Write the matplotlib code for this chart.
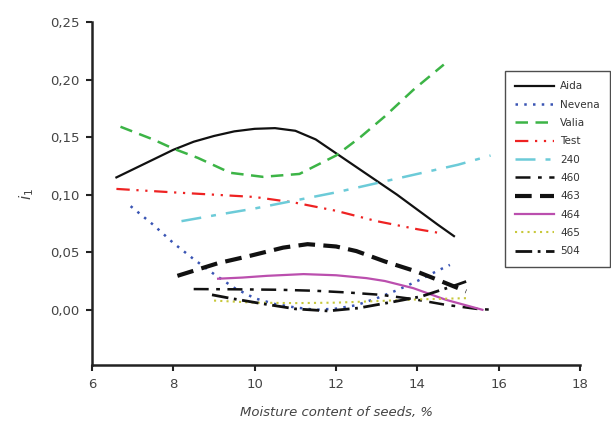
import matplotlib
matplotlib.use("Agg")
import matplotlib.pyplot as plt
from matplotlib.ticker import FixedLocator, FuncFormatter

# ---- data ----
aida_x = [6.6, 7.3, 8.0, 8.5, 9.0, 9.5, 10.0, 10.5, 11.0, 11.5, 12.0, 12.5, 13.0, 13.5, 14.0, 14.5, 14.9]
aida_y = [0.115, 0.127, 0.139, 0.146, 0.151, 0.1550, 0.1572, 0.1578, 0.1555, 0.1480, 0.136, 0.124, 0.112, 0.100, 0.087, 0.074, 0.064]

nevena_x = [6.95, 7.5, 8.0, 8.5, 9.0, 9.5, 10.0, 10.5, 11.0, 11.5, 12.0, 12.5, 13.0, 13.5, 14.0, 14.5, 14.8]
nevena_y = [0.090, 0.074, 0.058, 0.044, 0.031, 0.019, 0.010, 0.005, 0.002, 0.000, 0.001, 0.004, 0.010, 0.017, 0.025, 0.034, 0.039]

valia_x = [6.7, 7.5, 8.0, 8.6, 9.4, 10.2, 11.1, 12.0, 12.6, 13.2, 13.9, 14.65]
valia_y = [0.159, 0.148, 0.140, 0.132, 0.119, 0.1155, 0.118, 0.134, 0.150, 0.168, 0.191, 0.213]

test_x = [6.6, 8.0, 9.0, 10.0, 11.0, 12.0, 13.0, 14.0, 14.5]
test_y = [0.105, 0.102, 0.100, 0.098, 0.093, 0.086, 0.077, 0.070, 0.067]

s240_x = [8.2, 9.0, 10.0, 11.0, 12.0, 13.0, 14.0, 15.0, 15.8]
s240_y = [0.077, 0.082, 0.088, 0.095, 0.102, 0.110, 0.118, 0.126, 0.134]

s460_x = [8.5, 9.5, 10.6, 11.5, 12.3, 13.1, 13.9, 14.7, 15.5, 15.9]
s460_y = [0.018, 0.0178, 0.0174, 0.0165, 0.015, 0.013, 0.0093, 0.0043, 0.0006, 0.0]

s463_x = [8.1, 8.6, 9.1, 9.9, 10.7, 11.3, 12.0, 12.5, 13.2, 14.0, 14.5, 15.2]
s463_y = [0.0295, 0.035, 0.0405, 0.047, 0.054, 0.057, 0.055, 0.051, 0.042, 0.033, 0.026, 0.016]

s464_x = [9.1, 9.7, 10.3, 11.2, 12.0, 12.75, 13.2, 13.9, 14.7, 15.6]
s464_y = [0.027, 0.028, 0.0295, 0.031, 0.030, 0.0275, 0.025, 0.0188, 0.0087, 0.0]

s465_x = [9.0, 10.0, 11.0, 12.0, 12.75, 14.0, 15.2]
s465_y = [0.008, 0.0062, 0.0058, 0.0062, 0.0072, 0.009, 0.0101]

s504_x = [8.95, 9.4, 10.1, 11.0, 11.8, 12.55, 13.45, 14.1, 14.97, 15.2]
s504_y = [0.013, 0.010, 0.0058, 0.0008, -0.001, 0.0015, 0.0072, 0.0116, 0.0217, 0.0246]

x_ticks = [6, 8, 10, 12, 14, 16, 18]
y_ticks = [0.00, 0.05, 0.10, 0.15, 0.20, 0.25]

fig = plt.figure(figsize=(6.11, 4.23), dpi=100)
ax = fig.add_axes([0.1506, 0.137, 0.7987, 0.811])

ax.plot(aida_x, aida_y, color="#111111", lw=1.6, ls="-", label="Aida")
ax.plot(nevena_x, nevena_y, color="#3a55b4", lw=1.8, ls=(0, (1, 2.5)), label="Nevena")
ax.plot(valia_x, valia_y, color="#3cb446", lw=1.8, ls=(0, (5, 3)), label="Valia")
ax.plot(test_x, test_y, color="#ee2222", lw=1.6, ls=(0, (6, 3, 1, 3, 1, 3)), label="Test")
ax.plot(s240_x, s240_y, color="#6ccbd8", lw=1.8, ls=(0, (8, 4, 2, 4)), label="240")
ax.plot(s460_x, s460_y, color="#111111", lw=1.8, ls=(0, (6, 3, 1.5, 3)), label="460")
ax.plot(s463_x, s463_y, color="#111111", lw=3.0, ls=(0, (4, 2)), label="463")
ax.plot(s464_x, s464_y, color="#bb4fae", lw=1.6, ls="-", label="464")
ax.plot(s465_x, s465_y, color="#c8c83c", lw=1.5, ls=(0, (1, 2)), label="465")
ax.plot(s504_x, s504_y, color="#111111", lw=2.0, ls=(0, (6, 2, 1, 2)), label="504")

ax.set_xlim(6, 18)
ax.set_ylim(-0.048, 0.25)
ax.xaxis.set_major_locator(FixedLocator(x_ticks))
ax.yaxis.set_major_locator(FixedLocator(y_ticks))
ax.yaxis.set_major_formatter(FuncFormatter(lambda v, p: f"{v:.2f}".replace(".", ",")))
ax.xaxis.set_major_formatter(FuncFormatter(lambda v, p: f"{v:.0f}"))

for s in ["top", "right"]:
    ax.spines[s].set_visible(False)
for s in ["left", "bottom"]:
    ax.spines[s].set_linewidth(1.8)
    ax.spines[s].set_color("#222222")
ax.tick_params(direction="out", length=4, width=1.5, colors="#222222",
               labelsize=9.5, labelcolor="#444444", pad=5)

ax.set_xlabel("Moisture content of seeds, %", fontsize=9.5, style="italic",
              color="#444444", labelpad=11)
ax.set_ylabel(r"$i_1$", fontsize=11, color="#444444", labelpad=10)

leg = ax.legend(loc="upper left", bbox_to_anchor=(0.846, 0.857), fontsize=7.5,
                frameon=True, fancybox=False, handlelength=3.7, handletextpad=0.6,
                labelspacing=0.8, borderpad=1.0, borderaxespad=0)
leg.get_frame().set_edgecolor("#222222")
leg.get_frame().set_linewidth(1.0)
for t in leg.get_texts():
    t.set_color("#333333")

fig.savefig("out.png", dpi=100)
